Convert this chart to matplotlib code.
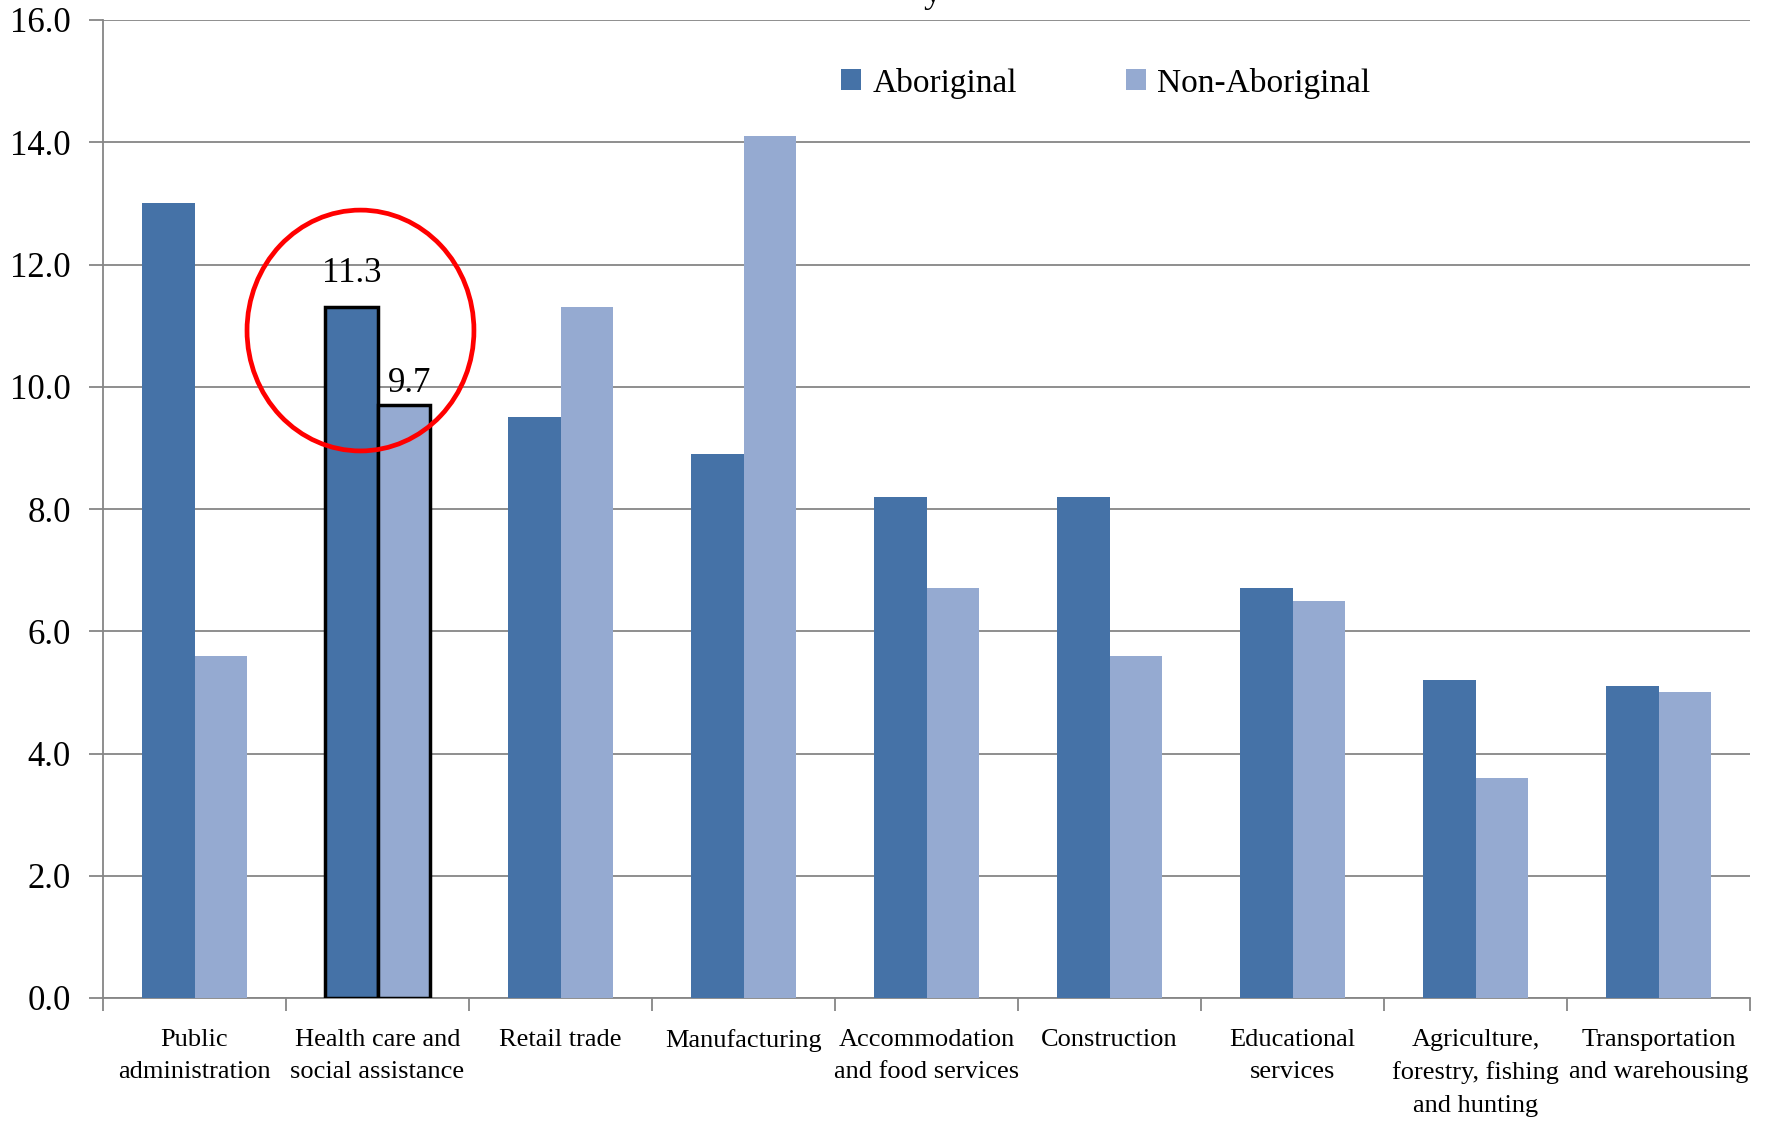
import matplotlib
matplotlib.use("Agg")
import matplotlib.pyplot as plt
from matplotlib.patches import Ellipse
import numpy as np

categories = ["Public\nadministration", "Health care and\nsocial assistance", "Retail trade",
              "Manufacturing", "Accommodation\nand food services", "Construction",
              "Educational\nservices", "Agriculture,\nforestry, fishing\nand hunting",
              "Transportation\nand warehousing"]
aboriginal = [13.0, 11.3, 9.5, 8.9, 8.2, 8.2, 6.7, 5.2, 5.1]
non_aboriginal = [5.6, 9.7, 11.3, 14.1, 6.7, 5.6, 6.5, 3.6, 5.0]
yticks = [0.0, 2.0, 4.0, 6.0, 8.0, 10.0, 12.0, 14.0, 16.0]
highlight = 1

plt.rcParams['font.family'] = ['Liberation Serif', 'DejaVu Serif']

fig = plt.figure(figsize=(17.7, 11.21), dpi=100)
ax = fig.add_axes([103/1770, 1-998/1121, (1750-103)/1770, (998-20)/1121])

c1 = '#4572A7'
c2 = '#95AAD1'
x = np.arange(len(categories))
w = 0.285
b1 = ax.bar(x - w/2, aboriginal, w, color=c1, label='Aboriginal', zorder=3)
b2 = ax.bar(x + w/2, non_aboriginal, w, color=c2, label='Non-Aboriginal', zorder=3)
for bars in (b1, b2):
    bars[highlight].set_edgecolor('black')
    bars[highlight].set_linewidth(2.5)

ax.text(x[highlight] - w/2, aboriginal[highlight] + 0.28, f"{aboriginal[highlight]:.1f}",
        ha='center', va='bottom', fontsize=25, zorder=5)
ax.text(x[highlight] + w/2 + 0.03, non_aboriginal[highlight] + 0.08, f"{non_aboriginal[highlight]:.1f}",
        ha='center', va='bottom', fontsize=25, zorder=5)

ell = Ellipse((x[highlight] - 0.093, 10.92), 1.24, 3.94, fill=False, edgecolor='#FF0000',
              linewidth=3.4, zorder=6, clip_on=False)
ax.add_patch(ell)

ax.set_xlim(-0.5, len(categories) - 0.5)
ax.set_ylim(0, 16)
ax.set_yticks(yticks)
ax.set_yticklabels([f"{v:.1f}" for v in yticks], fontsize=25)
ax.yaxis.grid(True, color='#868686', linewidth=1.3, zorder=0)
ax.set_axisbelow(True)

ax.set_xticks(x)
ax.set_xticklabels(categories, fontsize=19, linespacing=1.6, va='top')
ax.set_xticks(np.arange(-0.5, len(categories)), minor=True)
ax.tick_params(axis='x', which='major', length=0, pad=22)
ax.tick_params(axis='x', which='minor', length=9, width=1.3, color='#868686', direction='out')
ax.tick_params(axis='y', length=10, width=1.3, color='#868686', direction='out', pad=13)

for s in ('top', 'right'):
    ax.spines[s].set_visible(False)
for s in ('left', 'bottom'):
    ax.spines[s].set_color('#868686')
    ax.spines[s].set_linewidth(1.3)

leg = ax.legend(loc='upper left', bbox_to_anchor=(0.43, 0.982), ncol=2, frameon=False,
                fontsize=24, handlelength=0.6, handleheight=0.6, handletextpad=0.35,
                columnspacing=3.25)

fig.text(933/1770, 1 - 2/1121, 'y', ha='center', va='baseline', fontsize=26)

fig.savefig('out.png', dpi=100)
